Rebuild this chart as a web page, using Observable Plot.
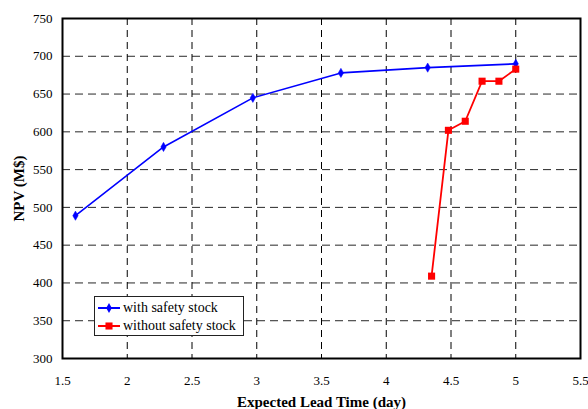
<!DOCTYPE html>
<html><head><meta charset="utf-8">
<script src="https://cdn.jsdelivr.net/npm/d3@7"></script>
<script src="https://cdn.jsdelivr.net/npm/@observablehq/plot@0.6"></script>
<style>
body{margin:0;background:#fff;}
#wrap{position:relative;width:588px;height:409px;overflow:hidden;font-family:"Liberation Serif",serif;}
#wrap svg text{font-family:"Liberation Serif",serif;}
#legend{position:absolute;left:94px;top:296px;width:148px;height:38px;border:1px solid #222;background:#fff;font-size:14px;color:#000;font-family:"Liberation Serif",serif;}
#legend .row{position:absolute;left:0;height:18px;display:flex;align-items:center;white-space:nowrap;}
#legend svg{margin-left:3px;margin-right:3px;}
</style>
</head><body>
<div id="wrap"></div>
<script>
const seriesNames = ["with safety stock", "without safety stock"];
const seriesColors = ["#0000ff", "#ff0000"];
const leadWith = [1.6, 2.28, 2.97, 3.65, 4.32, 5.0];
const npvWith = [489, 580, 645, 678, 685, 690];
const leadWithout = [4.35, 4.48, 4.61, 4.74, 4.87, 5.0];
const npvWithout = [409, 602, 614, 667, 667, 683];
const xTicks = [1.5, 2, 2.5, 3, 3.5, 4, 4.5, 5, 5.5];
const yTicks = [300, 350, 400, 450, 500, 550, 600, 650, 700, 750];
const xLabel = "Expected Lead Time (day)";
const yLabel = "NPV (M$)";

const dWith = leadWith.map((x, i) => ({x, y: npvWith[i]}));
const dWithout = leadWithout.map((x, i) => ({x, y: npvWithout[i]}));
const ff = '"Liberation Serif", serif';

const chart = Plot.plot({
  width: 588, height: 409,
  marginLeft: 62, marginRight: 8, marginTop: 18, marginBottom: 51,
  style: {fontFamily: ff, fontSize: "13px", color: "#000", background: "#fff"},
  x: {domain: [1.5, 5.5]},
  y: {domain: [300, 750]},
  marks: [
    Plot.gridX(xTicks.slice(1, -1), {stroke: "#000", strokeOpacity: 1, strokeWidth: 1, strokeDasharray: "7,5"}),
    Plot.gridY(yTicks.slice(1, -1), {stroke: "#000", strokeOpacity: 0.85, strokeWidth: 1, strokeDasharray: "8,5"}),
    Plot.axisX(xTicks, {tickSize: 0, tickPadding: 17, label: null, fontSize: 13, fontFamily: ff, tickFormat: d => String(d)}),
    Plot.axisY(yTicks, {tickSize: 0, tickPadding: 10, label: null, fontSize: 13, fontFamily: ff, tickFormat: d => String(d)}),
    Plot.line(dWith, {x: "x", y: "y", stroke: seriesColors[0], strokeWidth: 1.6}),
    Plot.dot(dWith, {x: "x", y: "y", symbol: "diamond", r: 2.8, fill: seriesColors[0], stroke: seriesColors[0], strokeWidth: 0.5}),
    Plot.line(dWithout, {x: "x", y: "y", stroke: seriesColors[1], strokeWidth: 1.8}),
    Plot.dot(dWithout, {x: "x", y: "y", symbol: "square", r: 4, fill: seriesColors[1], stroke: null}),
    Plot.frame({stroke: "#000", strokeWidth: 2}),
    Plot.text([xLabel], {text: d => d, frameAnchor: "bottom", dy: 44, lineAnchor: "middle", fontWeight: "bold", fontSize: 15, fontFamily: ff}),
    Plot.text([yLabel], {text: d => d, frameAnchor: "left", dx: -43, rotate: -90, textAnchor: "middle", lineAnchor: "middle", fontWeight: "bold", fontSize: 15, fontFamily: ff})
  ]
});
const wrap = document.getElementById("wrap");
wrap.appendChild(chart);

const legend = document.createElement("div");
legend.id = "legend";
seriesNames.forEach((name, i) => {
  const row = document.createElement("div");
  row.className = "row";
  row.style.top = (i === 0 ? 2 : 20) + "px";
  const sym = d3.symbol(i === 0 ? d3.symbolDiamond : d3.symbolSquare, i === 0 ? 28 : 50)();
  row.innerHTML = `<svg width="22" height="12"><line x1="0" x2="22" y1="6" y2="6" stroke="${seriesColors[i]}" stroke-width="2"/><path d="${sym}" transform="translate(11,6)" fill="${seriesColors[i]}"/></svg><span>${name}</span>`;
  legend.appendChild(row);
});
wrap.appendChild(legend);
</script>
</body></html>
